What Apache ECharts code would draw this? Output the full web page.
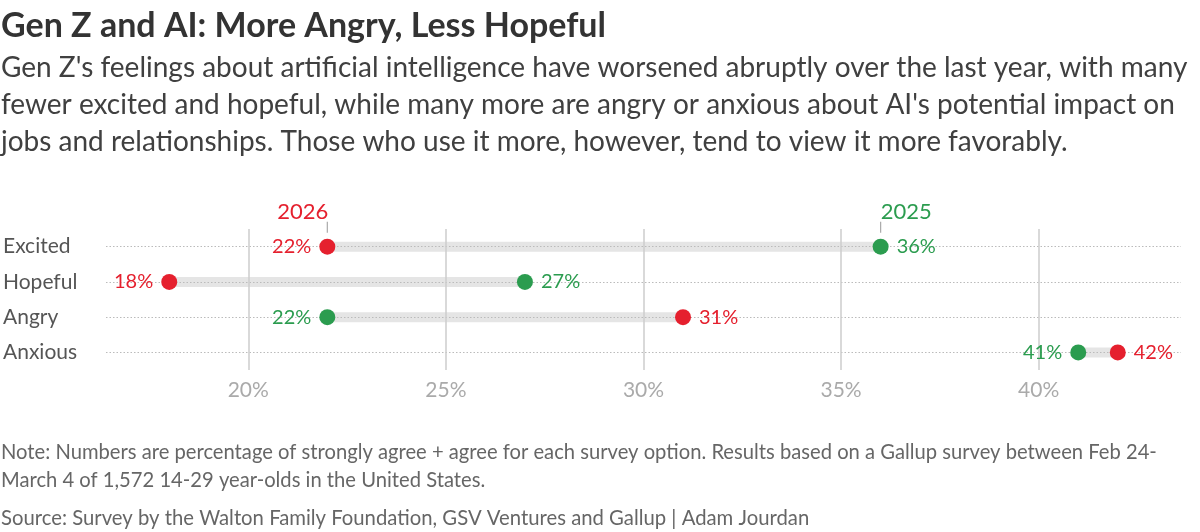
<!DOCTYPE html>
<html>
<head>
<meta charset="utf-8">
<title>Gen Z and AI</title>
<script src="https://cdn.jsdelivr.net/npm/echarts@6/dist/echarts.min.js"></script>
<style>
    html, body { margin: 0; padding: 0; background: #fff; }
    #chart { width: 1200px; height: 532px; }
</style>
</head>
<body>
<div id="chart"></div>
<script>
    "use strict";
    // data
    var categories = ["Excited", "Hopeful", "Angry", "Anxious"];
    var values2026 = [22, 18, 31, 42];
    var values2025 = [36, 27, 22, 41];
    var tickValues = [20, 25, 30, 35, 40];
    var yearNames = ["2026", "2025"];

    var titleText = "Gen Z and AI: More Angry, Less Hopeful";
    var subtitleLines = [
        "Gen Z's feelings about artificial intelligence have worsened abruptly over the last year, with many",
        "fewer excited and hopeful, while many more are angry or anxious about AI's potential impact on",
        "jobs and relationships. Those who use it more, however, tend to view it more favorably."
    ];
    var noteLines = [
        "Note: Numbers are percentage of strongly agree + agree for each survey option. Results based on a Gallup survey between Feb 24-",
        "March 4 of 1,572 14-29 year-olds in the United States."
    ];
    var sourceText = "Source: Survey by the Walton Family Foundation, GSV Ventures and Gallup | Adam Jourdan";

    var RED = "#e5202e",
        GREEN = "#2b9c4f",
        FONT = "Lato";

    var chart = echarts.init(document.getElementById("chart"));

    function dotData(values, others) {
        return values.map(function (v, i) {
            return {
                value: [v, i],
                label: { position: v < others[i] ? "left" : "right" }
            };
        });
    }

    function dotSeries(name, values, others, color) {
        return {
            name: name,
            type: "scatter",
            symbolSize: 16,
            z: 5,
            itemStyle: { color: color, opacity: 1 },
            label: {
                show: true,
                distance: 8,
                color: color,
                fontFamily: FONT,
                fontSize: 20,
                formatter: function (p) { return p.value[0] + "%"; }
            },
            data: dotData(values, others)
        };
    }

    var option = {
        animation: false,
        textStyle: { fontFamily: FONT },
        graphic: [
            { type: "text", left: 1, top: 9, style: { text: titleText, font: "bold 34px " + FONT, fill: "#333" } },
            { type: "text", left: 1, top: 49, style: { text: subtitleLines.join("\n"), font: "28px " + FONT, lineHeight: 37, fill: "#404040" } },
            { type: "text", left: 1, top: 438, style: { text: noteLines.join("\n"), font: "20.2px " + FONT, lineHeight: 28.5, fill: "#666" } },
            { type: "text", left: 1, top: 508, style: { text: sourceText, font: "20.3px " + FONT, fill: "#666" } }
        ],
        grid: { left: 105, right: 19, top: 229, bottom: 162 },
        xAxis: {
            type: "value",
            min: 16.4,
            max: 43.6,
            axisLine: { show: false },
            axisTick: { show: false },
            splitLine: { show: false },
            axisLabel: {
                showMinLabel: false,
                showMaxLabel: false,
                margin: 10,
                color: "#aaa",
                fontFamily: FONT,
                fontSize: 21,
                formatter: function (v) { return v % 5 === 0 ? v + "%" : ""; }
            }
        },
        yAxis: {
            type: "category",
            inverse: true,
            data: categories,
            axisLine: { show: false },
            axisTick: { show: false },
            splitLine: { show: false },
            axisLabel: {
                align: "left",
                margin: 103,
                color: "#555",
                fontFamily: FONT,
                fontSize: 21
            }
        },
        series: [
            {
                // grid lines only
                type: "scatter",
                z: 1,
                silent: true,
                data: [],
                markLine: {
                    silent: true,
                    symbol: "none",
                    label: { show: false },
                    data: categories.map(function (c, i) {
                        return { yAxis: i, lineStyle: { color: "#bbb", width: 1.2, type: [1.5, 2] } };
                    }).concat(tickValues.map(function (t) {
                        return { xAxis: t, lineStyle: { color: "#ccc", width: 1.5, type: "solid" } };
                    }))
                }
            },
            {
                type: "custom",
                z: 2,
                silent: true,
                encode: { x: [1, 2], y: 0 },
                data: categories.map(function (c, i) {
                    return [i, Math.min(values2026[i], values2025[i]), Math.max(values2026[i], values2025[i])];
                }),
                renderItem: function (params, api) {
                    var a = api.coord([api.value(1), api.value(0)]);
                    var b = api.coord([api.value(2), api.value(0)]);
                    return {
                        type: "rect",
                        shape: { x: a[0], y: a[1] - 5, width: b[0] - a[0], height: 10 },
                        style: { fill: "#e5e5e5" }
                    };
                }
            },
            {
                // year callouts above the first row
                type: "custom",
                z: 3,
                silent: true,
                encode: { x: 0, y: 1 },
                data: [
                    [values2026[0], 0, yearNames[0], values2026[0] < values2025[0] ? 1 : 0],
                    [values2025[0], 0, yearNames[1], values2025[0] < values2026[0] ? 1 : 0]
                ],
                renderItem: function (params, api) {
                    var p = api.coord([api.value(0), api.value(1)]);
                    var isLeft = api.value(3) === 1;
                    var color = params.dataIndex === 0 ? RED : GREEN;
                    return {
                        type: "group",
                        children: [
                            { type: "line", shape: { x1: p[0], y1: p[1] - 25, x2: p[0], y2: p[1] - 14 }, style: { stroke: "#aaa", lineWidth: 1.2 } },
                            {
                                type: "text",
                                style: {
                                    x: isLeft ? p[0] + 1 : p[0],
                                    y: p[1] - 24,
                                    text: api.value(2),
                                    align: isLeft ? "right" : "left",
                                    verticalAlign: "bottom",
                                    font: "22px " + FONT,
                                    fill: color
                                }
                            }
                        ]
                    };
                }
            },
            dotSeries(yearNames[0], values2026, values2025, RED),
            dotSeries(yearNames[1], values2025, values2026, GREEN)
        ]
    };

    chart.setOption(option);
</script>
</body>
</html>
